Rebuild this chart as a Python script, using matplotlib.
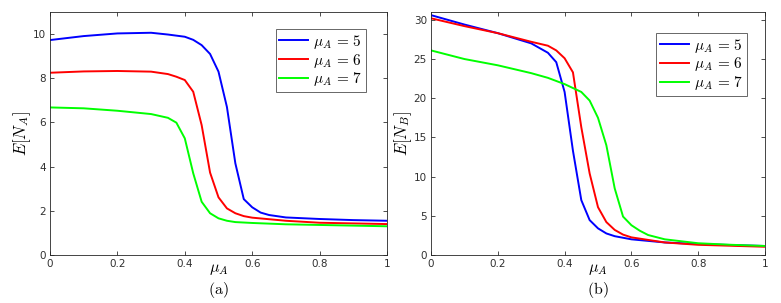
import numpy as np
import matplotlib
matplotlib.use("Agg")
import matplotlib.pyplot as plt

plt.rcParams['mathtext.fontset'] = 'cm'

# panel (a): E[N_A] vs mu_A
xa5 = [0, 0.1, 0.2, 0.3, 0.35, 0.4, 0.425, 0.45, 0.475, 0.5, 0.525, 0.55, 0.575,
       0.6, 0.625, 0.65, 0.7, 0.8, 0.9, 1.0]
ya5 = [9.73, 9.91, 10.03, 10.06, 9.98, 9.88, 9.74, 9.5, 9.1, 8.3, 6.7, 4.15, 2.53,
       2.16, 1.92, 1.81, 1.7, 1.63, 1.58, 1.55]
xa6 = [0, 0.1, 0.2, 0.3, 0.35, 0.375, 0.4, 0.425, 0.45, 0.475, 0.5, 0.525, 0.55,
       0.575, 0.6, 0.7, 0.8, 0.9, 1.0]
ya6 = [8.25, 8.31, 8.33, 8.3, 8.19, 8.07, 7.92, 7.39, 5.88, 3.73, 2.61, 2.11, 1.89,
       1.76, 1.69, 1.55, 1.46, 1.43, 1.4]
xa7 = [0, 0.1, 0.2, 0.3, 0.35, 0.375, 0.4, 0.425, 0.45, 0.475, 0.5, 0.525, 0.55,
       0.6, 0.7, 0.8, 1.0]
ya7 = [6.68, 6.64, 6.53, 6.38, 6.21, 5.99, 5.28, 3.7, 2.41, 1.89, 1.66, 1.55, 1.49,
       1.45, 1.39, 1.36, 1.3]

# panel (b): E[N_B] vs mu_A
xb5 = [0, 0.1, 0.2, 0.3, 0.35, 0.375, 0.4, 0.425, 0.45, 0.475, 0.5, 0.525, 0.55,
       0.6, 0.7, 0.8, 0.9, 1.0]
yb5 = [30.6, 29.4, 28.3, 27.0, 25.8, 24.6, 20.8, 13.3, 7.0, 4.45, 3.4, 2.75, 2.4,
       2.0, 1.6, 1.4, 1.27, 1.15]
xb6 = [0, 0.1, 0.2, 0.3, 0.35, 0.375, 0.4, 0.425, 0.45, 0.475, 0.5, 0.525, 0.55,
       0.575, 0.6, 0.7, 0.8, 1.0]
yb6 = [30.2, 29.2, 28.3, 27.2, 26.7, 26.1, 25.1, 23.3, 16.3, 10.4, 6.1, 4.2, 3.2,
       2.6, 2.25, 1.6, 1.3, 1.05]
xb7 = [0, 0.1, 0.2, 0.3, 0.35, 0.4, 0.425, 0.45, 0.475, 0.5, 0.525, 0.55, 0.575,
       0.6, 0.625, 0.65, 0.7, 0.8, 0.9, 1.0]
yb7 = [26.1, 25.0, 24.2, 23.2, 22.6, 21.8, 21.3, 20.8, 19.7, 17.5, 14.0, 8.5, 4.9,
       3.8, 3.1, 2.55, 2.0, 1.5, 1.3, 1.15]

labels = [r'$\mu_A\,=\,5$', r'$\mu_A\,=\,6$', r'$\mu_A\,=\,7$']
colors = ['#0000ff', '#ff0000', '#00ff00']

fig = plt.figure(figsize=(7.81, 3.03), dpi=100)
ax1 = fig.add_axes([50 / 781, 48 / 303, 337 / 781, 243 / 303])
ax2 = fig.add_axes([431 / 781, 48 / 303, 334 / 781, 243 / 303])


def style_axes(ax, ylim, yticks, ylabel, caption, leg_anchor):
    ax.set_xlim(0, 1)
    ax.set_ylim(*ylim)
    ax.set_xticks([0, 0.2, 0.4, 0.6, 0.8, 1])
    ax.set_xticklabels(['0', '0.2', '0.4', '0.6', '0.8', '1'])
    ax.set_yticks(yticks)
    ax.tick_params(direction='in', top=True, right=True, labelsize=7.5,
                   colors='#303030', length=3, width=0.6, pad=3)
    for s in ax.spines.values():
        s.set_color('#262626')
        s.set_linewidth(0.6)
    ax.set_ylabel(ylabel, fontsize=12, labelpad=0)
    ax.text(0.5, -0.058, r'$\mu_A$', transform=ax.transAxes, ha='center',
            va='center', fontsize=11.5)
    ax.text(0.5, -0.142, caption, transform=ax.transAxes, ha='center', va='center',
            fontsize=11.5)
    leg = ax.legend(loc='upper right', bbox_to_anchor=leg_anchor, fontsize=11,
                    fancybox=False, edgecolor='#404040', handlelength=1.9,
                    labelspacing=0.05, borderpad=0.25, handletextpad=0.3,
                    borderaxespad=0)
    leg.get_frame().set_linewidth(0.7)


for x, y, c, lab in zip([xa5, xa6, xa7], [ya5, ya6, ya7], colors, labels):
    ax1.plot(x, y, color=c, lw=1.4, label=lab)
style_axes(ax1, (0, 11), [0, 2, 4, 6, 8, 10], r'$E[N_A]$', r'$\mathrm{(a)}$',
           (0.938, 0.93))

for x, y, c, lab in zip([xb5, xb6, xb7], [yb5, yb6, yb7], colors, labels):
    ax2.plot(x, y, color=c, lw=1.4, label=lab)
style_axes(ax2, (0, 31), [0, 5, 10, 15, 20, 25, 30], r'$E[N_B]$', r'$\mathrm{(b)}$',
           (0.946, 0.914))

fig.savefig('out.png', dpi=100)
